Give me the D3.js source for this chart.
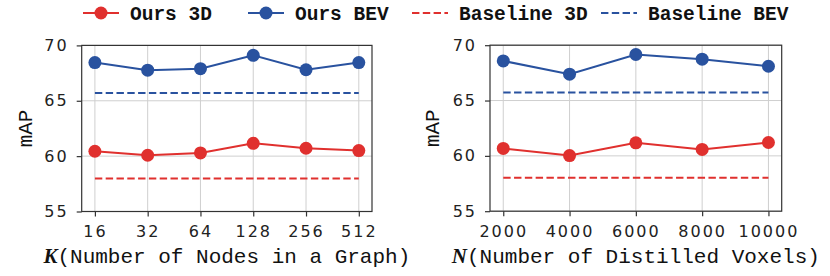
<!DOCTYPE html>
<html lang="en">
<head>
  <meta charset="UTF-8">
  <title>mAP vs K and N</title>
  <style>
    body { margin: 0; background: #fff; }
    svg { display: block; }
    .tick text { font-family: 'DejaVu Sans', sans-serif; font-size: 16px; letter-spacing: 2px; fill: #222; }
    .tick line { stroke: #333; stroke-width: 1.2; }
  </style>
  <script src="https://d3js.org/d3.v7.min.js"></script>
</head>
<body>
  <svg></svg>
  <script>
    // values
    const yTicks = [55, 60, 65, 70];

    const kLabels = ["16", "32", "64", "128", "256", "512"];
    const kOurs3D = [60.44, 60.08, 60.29, 61.16, 60.71, 60.50];
    const kOursBEV = [68.45, 67.76, 67.90, 69.10, 67.80, 68.45];
    const kBase3D = 57.98;
    const kBaseBEV = 65.70;

    const nValues = [2000, 4000, 6000, 8000, 10000];
    const nOurs3D = [60.67, 60.03, 61.18, 60.58, 61.21];
    const nOursBEV = [68.58, 67.38, 69.16, 68.74, 68.10];
    const nBase3D = 58.03;
    const nBaseBEV = 65.72;

    const red = "#e0302e", blue = "#29529f";
    const mono = "'Liberation Mono', Cousine, 'Courier New', Courier, 'Nimbus Mono PS', monospace";
    const width = 830, height = 276;
    const svg = d3.select("svg").attr("width", width).attr("height", height);

    function panel(opt) {
      const g = svg.append("g");
      const x = opt.x, y = d3.scaleLinear().domain([55, 70]).range([opt.bottom, opt.top]);
      const [x0, x1] = x.range();

      // grid
      g.selectAll(".gx").data(opt.xs).join("line")
        .attr("x1", d => x(d)).attr("x2", d => x(d))
        .attr("y1", opt.top).attr("y2", opt.bottom)
        .attr("stroke", "#cfcfcf").attr("stroke-width", 1);
      g.selectAll(".gy").data(yTicks).join("line")
        .attr("x1", x0).attr("x2", x1)
        .attr("y1", d => y(d)).attr("y2", d => y(d))
        .attr("stroke", "#cfcfcf").attr("stroke-width", 1);

      // baselines
      const series = [
        { base: opt.base3D, vals: opt.ours3D, c: red },
        { base: opt.baseBEV, vals: opt.oursBEV, c: blue }
      ];
      series.forEach(s => {
        g.append("line")
          .attr("x1", x(opt.xs[0])).attr("x2", x(opt.xs[opt.xs.length - 1]))
          .attr("y1", y(s.base)).attr("y2", y(s.base))
          .attr("stroke", s.c).attr("stroke-width", 2)
          .attr("stroke-dasharray", "7.4,3.4");
      });
      series.forEach(s => {
        const pts = opt.xs.map((d, i) => [x(d), y(s.vals[i])]);
        g.append("path").attr("d", d3.line()(pts))
          .attr("fill", "none").attr("stroke", s.c).attr("stroke-width", 2);
        g.selectAll(null).data(pts).join("circle")
          .attr("cx", d => d[0]).attr("cy", d => d[1]).attr("r", 6.5)
          .attr("fill", s.c);
      });

      // frame
      g.append("rect").attr("x", x0).attr("y", opt.top)
        .attr("width", x1 - x0).attr("height", opt.bottom - opt.top)
        .attr("fill", "none").attr("stroke", "#333").attr("stroke-width", 1.2);

      // axes
      const ax = g.append("g").attr("transform", `translate(0,${opt.bottom})`)
        .call(d3.axisBottom(x).tickValues(opt.xs).tickFormat(opt.fmt)
          .tickSize(5).tickPadding(9.5));
      ax.select(".domain").remove();
      const ay = g.append("g").attr("transform", `translate(${x0},0)`)
        .call(d3.axisLeft(y).tickValues(yTicks).tickSize(5).tickPadding(8));
      ay.select(".domain").remove();

      // labels
      const cx = (x0 + x1) / 2;
      const lab = g.append("text").attr("x", cx).attr("y", 263)
        .attr("text-anchor", "middle")
        .style("font-family", mono).style("font-size", "21px").attr("fill", "#111");
      lab.append("tspan").text(opt.sym)
        .style("font-family", "'Liberation Serif', 'DejaVu Serif', serif")
        .style("font-weight", "bold").style("font-style", "italic");
      lab.append("tspan").text(opt.label);

      g.append("text")
        .attr("transform", `translate(${opt.ylx},${(opt.top + opt.bottom) / 2}) rotate(-90)`)
        .attr("text-anchor", "middle").attr("dy", "0.35em")
        .style("font-family", mono).style("font-size", "21px").attr("fill", "#111")
        .text("mAP");
    }

    panel({
      x: d3.scaleLinear().domain([-0.25, kLabels.length - 0.75]).range([81.7, 372]),
      xs: kLabels.map((d, i) => i),
      fmt: i => kLabels[i],
      top: 45.4, bottom: 211.5,
      ours3D: kOurs3D, oursBEV: kOursBEV, base3D: kBase3D, baseBEV: kBaseBEV,
      sym: "K", label: "(Number of Nodes in a Graph)", ylx: 24.5
    });

    panel({
      x: d3.scaleLinear().domain([1600, 10400]).range([490, 781.7]),
      xs: nValues,
      fmt: d => String(d),
      top: 45.2, bottom: 211.2,
      ours3D: nOurs3D, oursBEV: nOursBEV, base3D: nBase3D, baseBEV: nBaseBEV,
      sym: "N", label: "(Number of Distilled Voxels)", ylx: 432
    });

    // legend
    const legend = [
      { name: "Ours 3D", c: red, dash: false, x: 83 },
      { name: "Ours BEV", c: blue, dash: false, x: 248 },
      { name: "Baseline 3D", c: red, dash: true, x: 412 },
      { name: "Baseline BEV", c: blue, dash: true, x: 601 }
    ];
    const lg = svg.append("g");
    legend.forEach(l => {
      lg.append("line").attr("x1", l.x).attr("x2", l.x + 36)
        .attr("y1", 13).attr("y2", 13)
        .attr("stroke", l.c).attr("stroke-width", 2)
        .attr("stroke-dasharray", l.dash ? "7.4,3.4" : null);
      if (!l.dash) {
        lg.append("circle").attr("cx", l.x + 18).attr("cy", 13).attr("r", 6.5).attr("fill", l.c);
      }
      lg.append("text").attr("x", l.x + 47).attr("y", 13)
        .attr("dy", "0.35em").attr("fill", "#111")
        .style("font-family", mono).style("font-size", "19.5px").style("font-weight", "bold")
        .text(l.name);
    });
  </script>
</body>
</html>
